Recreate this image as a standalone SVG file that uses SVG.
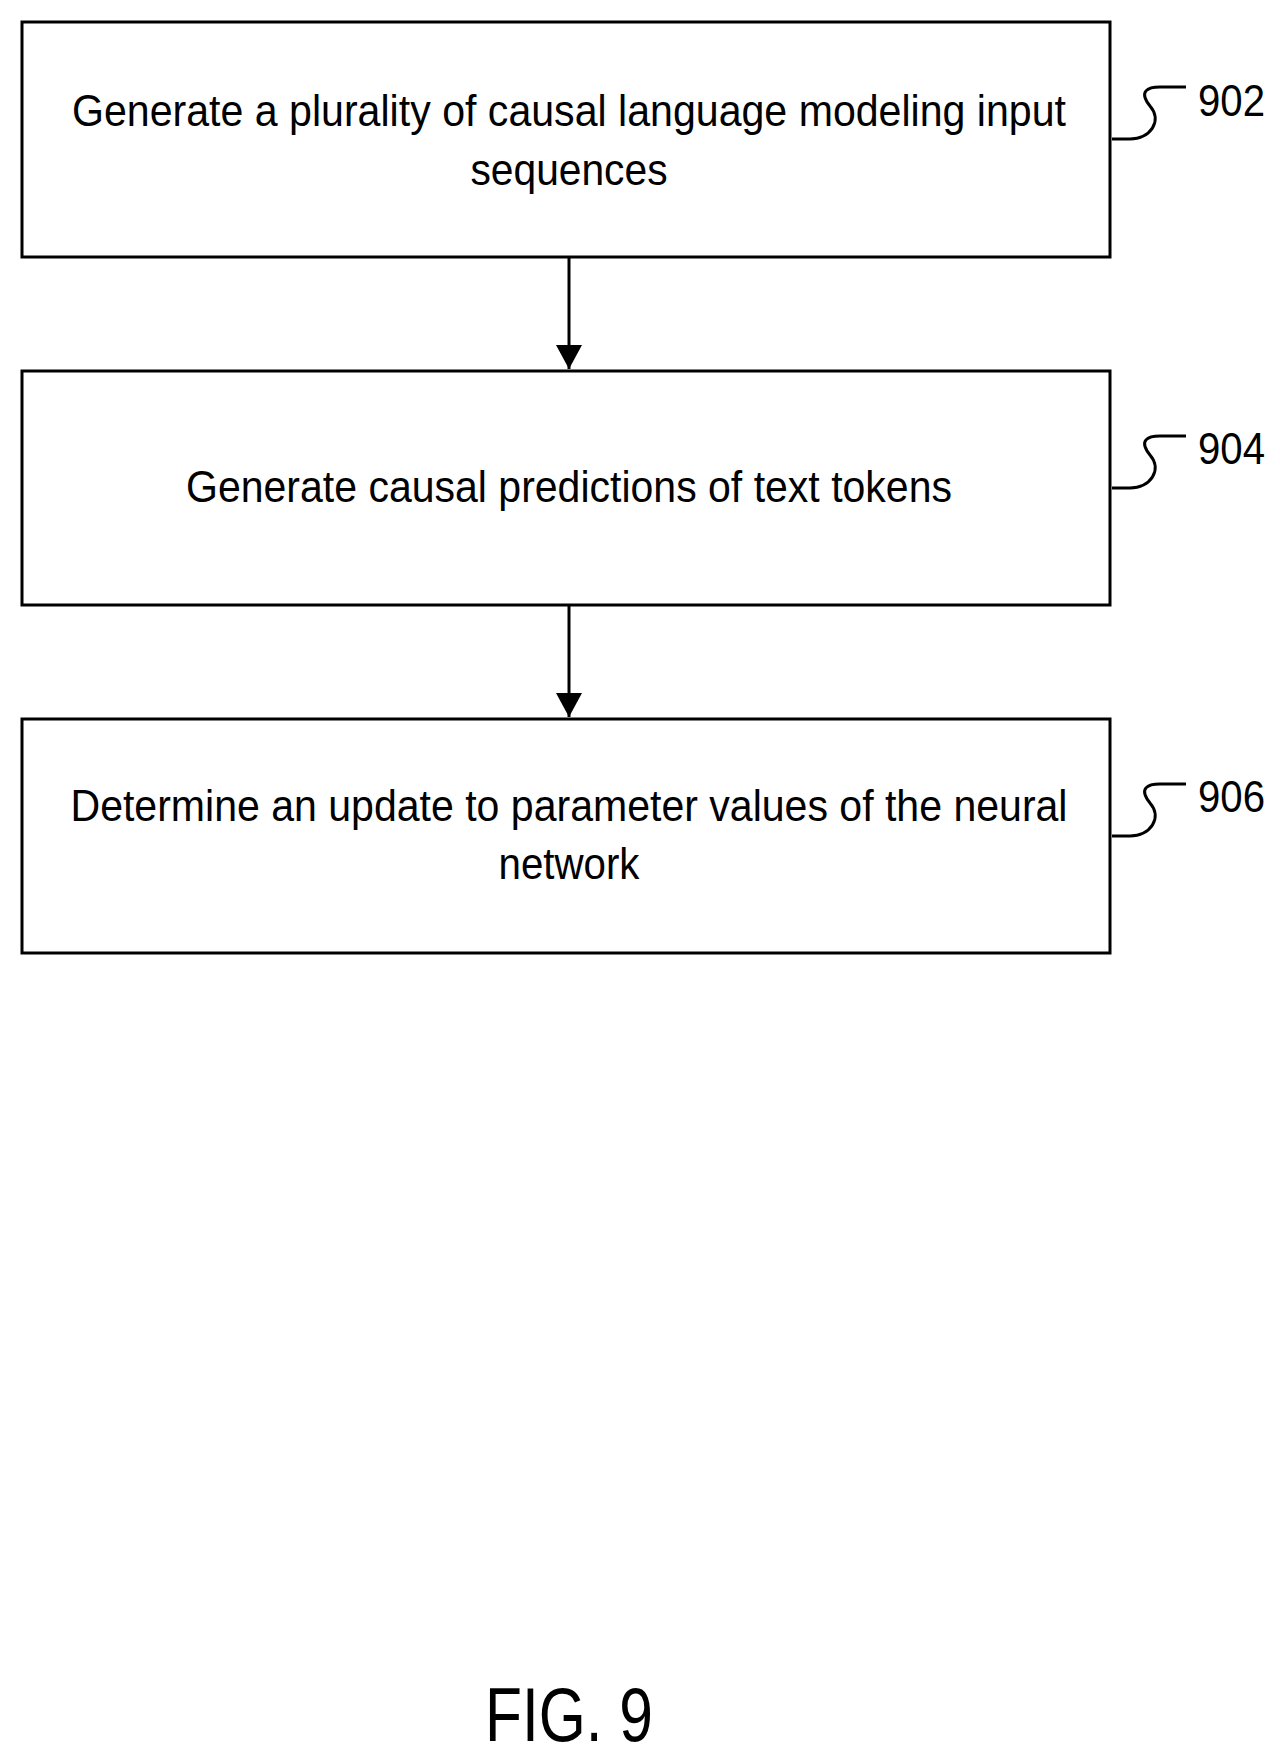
<svg xmlns="http://www.w3.org/2000/svg" width="1280" height="1754" viewBox="0 0 1280 1754">
<style>
.box{fill:#fff;stroke:#000;stroke-width:3}
.t{font-family:"Liberation Sans",Arial,sans-serif;font-size:45px;fill:#000}
.c{stroke:#000;stroke-width:3;fill:none}
</style>
<defs><marker id="ah" markerWidth="10" markerHeight="10" refX="9" refY="5" orient="auto" markerUnits="userSpaceOnUse" viewBox="0 0 10 10"><path d="M0 0L10 5L0 10z" fill="#000"/></marker>
<marker id="a" markerWidth="24" markerHeight="26" refX="24" refY="13" orient="auto" markerUnits="userSpaceOnUse"><path d="M0 0L24 13L0 26z" fill="#000"/></marker></defs>
<rect width="1280" height="1754" fill="#fff"/>
<g id="n902"><rect class="box" x="22" y="22" width="1088" height="235"/>
<text class="t" x="569" y="126" text-anchor="middle" textLength="994" lengthAdjust="spacingAndGlyphs">Generate a plurality of causal language modeling input</text>
<text class="t" x="569" y="185" text-anchor="middle" textLength="197" lengthAdjust="spacingAndGlyphs">sequences</text></g>
<g id="n904"><rect class="box" x="22" y="371" width="1088" height="234"/>
<text class="t" x="569" y="502" text-anchor="middle" textLength="766" lengthAdjust="spacingAndGlyphs">Generate causal predictions of text tokens</text></g>
<g id="n906"><rect class="box" x="22" y="719" width="1088" height="234"/>
<text class="t" x="569" y="821" text-anchor="middle" textLength="997" lengthAdjust="spacingAndGlyphs">Determine an update to parameter values of the neural</text>
<text class="t" x="569" y="879" text-anchor="middle" textLength="141" lengthAdjust="spacingAndGlyphs">network</text></g>
<g id="connectors">
<line class="c" x1="569" y1="257" x2="569" y2="369" marker-end="url(#a)"/>
<line class="c" x1="569" y1="605" x2="569" y2="717" marker-end="url(#a)"/>
<path class="c" stroke-width="2" d="M1112 139L1130 139C1150 139 1163 121 1150 106C1138 91 1148 87 1160 87L1186 87"/>
<path class="c" stroke-width="2" d="M1112 488L1130 488C1150 488 1163 470 1150 455C1138 440 1148 436 1160 436L1186 436"/>
<path class="c" stroke-width="2" d="M1112 836L1130 836C1150 836 1163 818 1150 803C1138 788 1148 784 1160 784L1186 784"/>
</g>
<text class="t" x="1198" y="116" textLength="67" lengthAdjust="spacingAndGlyphs">902</text>
<text class="t" x="1198" y="464" textLength="67" lengthAdjust="spacingAndGlyphs">904</text>
<text class="t" x="1198" y="812" textLength="67" lengthAdjust="spacingAndGlyphs">906</text>
<text class="t" x="569" y="1741" text-anchor="middle" font-size="76" textLength="168" lengthAdjust="spacingAndGlyphs" style="font-size:76px">FIG. 9</text>
</svg>
